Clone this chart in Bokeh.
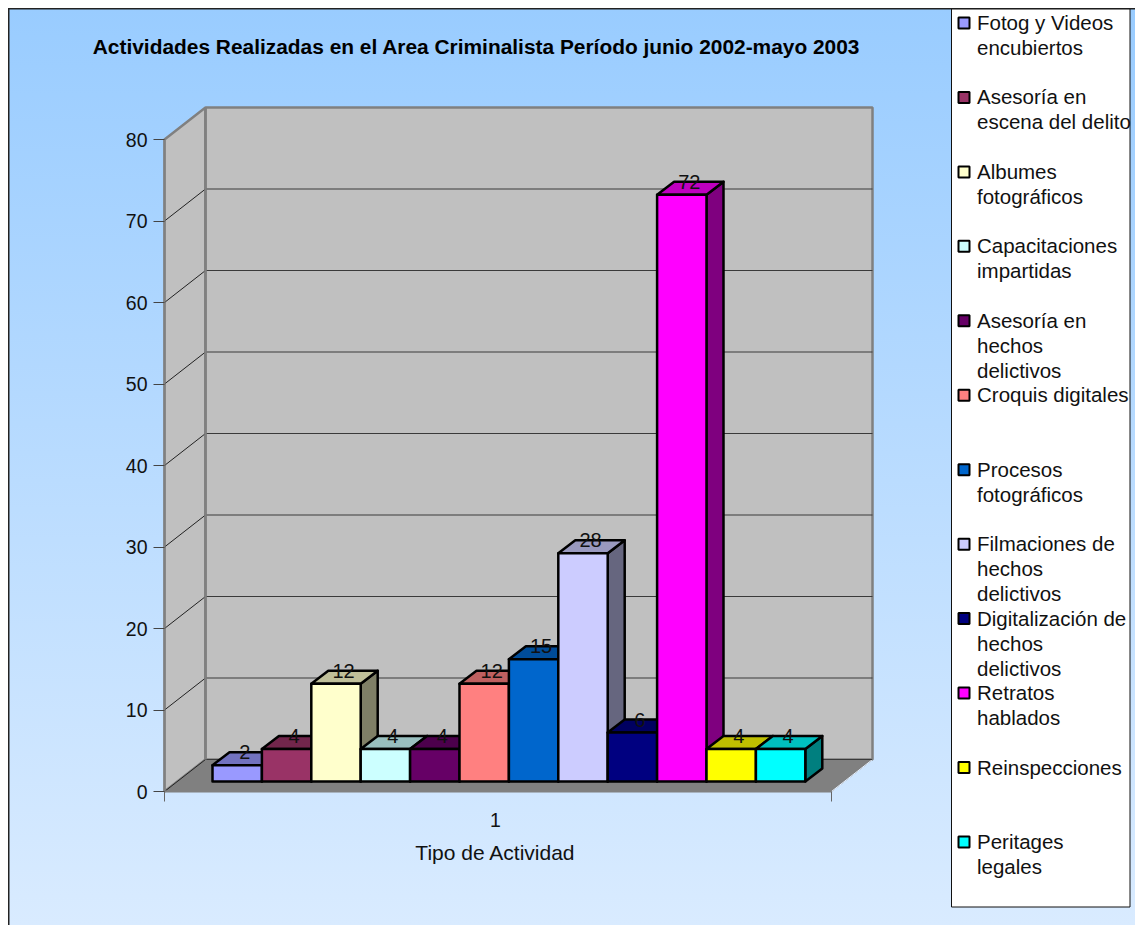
from bokeh.plotting import figure
from bokeh.models import Range1d, LinearAxis, FixedTicker
from bokeh.core.properties import value
from bokeh.embed import file_html
from bokeh.resources import INLINE

# ---- data ----
categories = ["Fotog y Videos\nencubiertos", "Asesoría en\nescena del delito",
              "Albumes\nfotográficos", "Capacitaciones\nimpartidas",
              "Asesoría en\nhechos\ndelictivos", "Croquis digitales",
              "Procesos\nfotográficos", "Filmaciones de\nhechos\ndelictivos",
              "Digitalización de\nhechos\ndelictivos", "Retratos\nhablados",
              "Reinspecciones", "Peritages\nlegales"]
values = [2, 4, 12, 4, 4, 12, 15, 28, 6, 72, 4, 4]
colors = ["#9999FF", "#993366", "#FFFFCC", "#CCFFFF", "#660066", "#FF8080",
          "#0066CC", "#CCCCFF", "#000080", "#FF00FF", "#FFFF00", "#00FFFF"]
y_ticks = [0, 10, 20, 30, 40, 50, 60, 70, 80]
chart_title = "Actividades Realizadas en el Area Criminalista Período junio 2002-mayo 2003"
x_title = "Tipo de Actividad"
x_label = "1"

# ---- layout ----
FONT = "Liberation Sans"
PX = 8.15                 # pixels per value unit
ZERO = 791                # page y of value 0
def vy(py):               # page pixel -> value-axis position
    return (ZERO - py) / PX
X0, X1 = 164, 831         # front floor edge
XMID = 495                # where the category label sits
DX, DY = 41, 32 / PX      # wall depth
BAR_L, BAR_W = 212, 49.4
BASE = vy(781)
BDX, BDY = 17, 13 / PX    # bar depth

p = figure(width=1127, height=917, output_backend="svg", toolbar_location=None,
           x_range=Range1d(8, 1135), y_range=Range1d(vy(925), vy(8)),
           x_axis_type=None, y_axis_type=None, margin=(8, 0, 0, 8),
           min_border_left=0, min_border_right=0, min_border_top=0,
           min_border_bottom=0,
           outline_line_color=None, background_fill_color=None, border_fill_color=None)
p.styles = {"background": "linear-gradient(180deg, #99CCFF 0%, #D9EBFF 100%)",
            "box-shadow": "inset 1.5px 1.5px 0 #222222"}
p.grid.visible = False

# axes
ya = LinearAxis(ticker=FixedTicker(ticks=y_ticks), bounds=(0, 80), fixed_location=X0)
ya.axis_line_color = "#808080"
ya.axis_line_width = 2
ya.major_tick_line_color = "#444444"
ya.major_tick_out = 11
ya.major_tick_in = 0
ya.minor_tick_line_color = None
ya.major_label_text_font = FONT
ya.major_label_text_font_size = "19.5px"
ya.major_label_text_color = "#111111"
ya.major_label_standoff = 6
p.add_layout(ya, "left")

xa = LinearAxis(ticker=FixedTicker(ticks=[XMID], minor_ticks=[X0, X1]),
                bounds=(X0, X1), fixed_location=0)
xa.major_label_overrides = {XMID: x_label}
xa.axis_line_color = "#808080"
xa.axis_line_width = 2
xa.major_tick_out = 0
xa.major_tick_in = 0
xa.minor_tick_out = 10
xa.minor_tick_in = 0
xa.minor_tick_line_color = "#666666"
xa.major_label_text_font = FONT
xa.major_label_text_font_size = "19.5px"
xa.major_label_text_color = "#111111"
xa.major_label_standoff = 11
p.add_layout(xa, "below")

# walls and floor
top = y_ticks[-1]
p.patch([X0, X0 + DX, X0 + DX, X0], [0, DY, top + DY, top],
        fill_color="#C0C0C0", line_color="#808080", line_width=2.5)
p.patch([X0 + DX, X1 + DX, X1 + DX, X0 + DX], [DY, DY, top + DY, top + DY],
        fill_color="#C0C0C0", line_color="#808080", line_width=2.5)
p.patch([X0, X1, X1 + DX, X0 + DX], [0, 0, DY, DY],
        fill_color="#808080", line_color="#808080", line_width=1)
p.segment(x0=[X1], y0=[0], x1=[X1 + DX], y1=[DY], line_color="#E8F2FF", line_width=1)

# grid lines on both walls
gt = y_ticks[:-1]
p.segment(x0=[X0] * len(gt), y0=gt, x1=[X0 + DX] * len(gt), y1=[v + DY for v in gt],
          line_color="#222222", line_width=1)
p.segment(x0=[X0 + DX] * len(gt), y0=[v + DY for v in gt],
          x1=[X1 + DX] * len(gt), y1=[v + DY for v in gt],
          line_color="#3A3A3A", line_width=1)
p.segment(x0=[X0 + DX], y0=[DY], x1=[X0 + DX], y1=[top + DY],
          line_color="#808080", line_width=2.5)

def shade(c, f):
    r, g, b = (int(c[i:i + 2], 16) for i in (1, 3, 5))
    return "#%02X%02X%02X" % (int(r * f), int(g * f), int(b * f))

# bars, drawn left to right so each next bar covers the previous side face
for i, (v, c) in enumerate(zip(values, colors)):
    l = BAR_L + i * BAR_W
    r = l + BAR_W
    t = BASE + v
    p.patch([r, r + BDX, r + BDX, r], [BASE, BASE + BDY, t + BDY, t],
            fill_color=shade(c, 0.5), line_color="black", line_width=2.5, line_join="round")
    p.patch([l, l + BDX, r + BDX, r], [t, t + BDY, t + BDY, t],
            fill_color=shade(c, 0.75), line_color="black", line_width=2.5, line_join="round")
    p.patch([l, r, r, l], [BASE, BASE, t, t],
            fill_color=c, line_color="black", line_width=2.5, line_join="round")

# data labels
p.text(x=[BAR_L + (i + 0.5) * BAR_W + 7.5 for i in range(len(values))],
       y=[BASE + v + 13 / PX for v in values],
       text=[str(v) for v in values],
       text_font=value(FONT), text_font_size="20px", text_color="#111111",
       text_align="center", text_baseline="alphabetic")

# title
p.text(x=[476], y=[vy(46)], text=[chart_title], text_font=value(FONT),
       text_font_size="20.9px", text_font_style="bold", text_color="black",
       text_align="center", text_baseline="middle")

# x axis title
p.text(x=[XMID], y=[vy(852)], text=[x_title], text_font=value(FONT),
       text_font_size="21px", text_color="#111111",
       text_align="center", text_baseline="middle")

# legend panel
p.quad(left=[951], right=[1129.5], top=[vy(8.5)], bottom=[vy(906.5)],
       fill_color="white", line_color="#111111", line_width=1)
LEG_Y0, LEG_STEP, LINE_H = 22.5, 74.45, 25
ry = [LEG_Y0 + i * LEG_STEP for i in range(len(categories))]
p.scatter(x=[963.5] * len(categories), y=[vy(y) for y in ry], marker="square", size=11,
          fill_color=colors, line_color="black", line_width=2)
tx, ty, tt = [], [], []
for y, cat in zip(ry, categories):
    for j, line in enumerate(cat.split("\n")):
        tx.append(976.5)
        ty.append(vy(y - 0.5 + j * LINE_H))
        tt.append(line)
p.text(x=tx, y=ty, text=tt, text_font=value(FONT), text_font_size="20.5px",
       text_color="#111111", text_align="left", text_baseline="middle")

open("out.html", "w").write(file_html(p, INLINE))
